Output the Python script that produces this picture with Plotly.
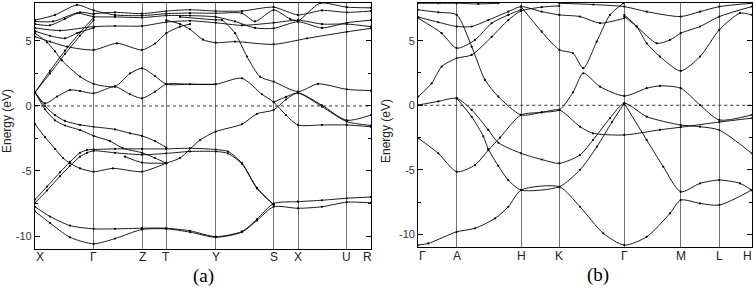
import plotly.graph_objects as go

# ---------------- Panel (a) ----------------
kpts_a = [0, 0.587, 1.07, 1.313, 1.807, 2.387, 2.63, 3.117, 3.36]
klab_a = ["X", "Γ", "Z", "T", "Y", "S", "X", "U", "R"]

a01 = [[0,-8.1],[0.15,-9.0],[0.35,-10.1],[0.587,-10.6],[0.8,-10.2],[1.07,-9.5],[1.313,-9.45],[1.55,-9.7],[1.807,-10.1],[2.07,-9.7],[2.22,-8.8],[2.387,-7.75],[2.63,-7.87],[2.87,-7.75],[3.117,-7.4],[3.36,-7.45]]
a02 = [[0,-7.75],[0.15,-8.5],[0.35,-9.2],[0.587,-9.45],[0.8,-9.45],[1.07,-9.4],[1.313,-9.4],[1.55,-9.6],[1.807,-10.05],[2.07,-9.65],[2.22,-8.7],[2.387,-7.5],[2.63,-7.36],[2.87,-7.25],[3.117,-7.1],[3.36,-7.0]]
a03 = [[0,-7.2],[0.12,-6.2],[0.25,-5.1],[0.35,-4.3],[0.45,-3.6],[0.52,-3.38],[0.587,-3.35],[0.8,-3.3],[1.07,-3.3],[1.313,-3.3],[1.55,-3.25],[1.807,-3.35],[1.93,-3.5],[2.07,-4.4],[2.22,-6.3],[2.387,-7.6]]
a04 = [[0,-7.45],[0.12,-6.5],[0.25,-5.4],[0.35,-4.6],[0.45,-3.9],[0.52,-3.6],[0.587,-3.45],[0.8,-3.6],[1.07,-3.75],[1.313,-3.65],[1.55,-3.5],[1.807,-3.5],[1.93,-3.65],[2.07,-4.45],[2.22,-6.35],[2.387,-7.6]]
a05 = [[0,-1.4],[0.1,-2.4],[0.2,-3.3],[0.28,-4.0],[0.35,-4.4],[0.45,-4.8],[0.587,-5.05],[0.78,-4.8],[1.07,-5.05],[1.313,-4.4],[1.45,-4.0],[1.65,-2.62],[1.807,-1.97],[2.07,-1.4],[2.22,-0.6],[2.387,-0.3],[2.51,0.5],[2.63,1.0],[2.87,0.05],[3.117,-1.1],[3.36,-0.7]]
a06 = [[0,5.6],[0.12,4.9],[0.2,4.2],[0.27,3.5],[0.45,2.26],[0.587,1.7],[0.8,1.5],[0.95,2.5],[1.07,2.9],[1.2,2.3],[1.313,1.68],[1.55,1.67],[1.807,1.67],[2.07,2.13],[2.27,0.9],[2.387,0.3],[2.51,-0.7],[2.63,-1.46],[2.87,-1.46],[3.117,-1.46],[3.36,-1.6]]
a07 = [[0,1.05],[0.1,0.2],[0.22,0.72],[0.35,1.23],[0.45,1.15],[0.587,0.97],[0.8,1.49],[0.95,0.9],[1.07,0.59],[1.2,1.1],[1.313,1.68],[1.55,1.67],[1.807,1.67]]
a08 = [[0,1.05],[0.15,2.5],[0.3,4.0],[0.45,5.4],[0.587,6.6]]
a09 = [[0,1.05],[0.15,2.7],[0.3,4.25],[0.45,5.65],[0.587,6.8]]
a10 = [[0,1.05],[0.1,0.0],[0.2,-0.7],[0.3,-1.15],[0.45,-1.45],[0.587,-1.6],[0.8,-1.8],[0.95,-2.1],[1.07,-2.3],[1.2,-2.7],[1.313,-3.2]]
a11 = [[0,1.05],[0.1,-0.25],[0.2,-1.1],[0.3,-1.5],[0.45,-1.85],[0.587,-2.3],[0.75,-2.7],[0.88,-3.25],[1.07,-3.6],[1.2,-4.0],[1.313,-4.4]]
a12 = [[0.9,-3.9],[1.07,-4.35],[1.313,-4.4]]
a13 = [[0,5.33],[0.15,4.95],[0.32,4.56],[0.587,4.31],[0.82,4.82],[1.07,4.31],[1.2,4.8],[1.313,5.6],[1.45,6.1],[1.55,6.3]]
a14 = [[1.313,6.6],[1.45,6.3],[1.55,5.9],[1.68,5.1],[1.807,4.87],[2.0,4.95],[2.387,4.74],[2.72,5.2],[3.117,5.7],[3.36,5.97]]
a15 = [[1.45,6.85],[1.807,6.62],[1.87,6.6],[2.0,5.6],[2.12,3.8],[2.25,2.25],[2.387,1.87],[2.63,1.1],[2.83,1.7],[3.117,1.28],[3.36,1.18]]
a16 = [[2.387,0.3],[2.51,0.7],[2.63,1.0],[2.87,-0.05],[3.117,-1.2],[3.36,-1.5]]
a17 = [[0,6.6],[0.2,7.0],[0.42,7.77],[0.587,7.35],[0.8,7.0],[1.07,6.95],[1.313,7.1],[1.55,7.15],[1.807,7.13],[2.07,7.13],[2.2,6.5],[2.387,7.38],[2.55,6.7],[2.63,6.55],[2.85,7.9],[3.117,7.6],[3.36,7.55]]
a18 = [[0,6.5],[0.18,6.5],[0.42,7.13],[0.587,6.87],[0.8,6.85],[1.07,6.8],[1.313,6.95],[1.55,6.95],[1.807,6.85],[2.0,6.5],[2.2,6.0],[2.387,5.97],[2.63,6.48],[2.87,6.0],[3.117,6.4],[3.36,6.6]]
a19 = [[0,6.0],[0.25,5.8],[0.587,6.1],[0.8,6.15],[1.07,6.15],[1.313,6.45],[1.55,6.55],[1.807,6.4],[2.07,6.2],[2.387,6.4],[2.63,6.6],[2.87,6.3],[3.117,6.3],[3.36,6.1]]
a20 = [[0,5.75],[0.15,5.4],[0.3,5.2],[0.42,5.6],[0.587,6.0]]
a21 = [[0.587,7.1],[0.8,7.2],[1.07,7.1],[1.313,7.3],[1.55,7.4],[1.807,7.3],[2.07,7.3],[2.387,7.6],[2.63,7.0],[2.87,7.35],[3.117,7.2],[3.36,7.3]]
a22 = [[0,6.3],[0.15,6.2],[0.3,6.7],[0.45,7.2],[0.587,7.05]]

# ---------------- Panel (b) ----------------
kpts_b = [0, 0.384, 1.027, 1.41, 2.06, 2.624, 3.01, 3.334]
klab_b = ["Γ", "A", "H", "K", "Γ", "M", "L", "H"]

b01 = [[0,-10.83],[0.1,-10.7],[0.384,-9.8],[0.567,-9.53],[0.767,-8.76],[0.9,-7.86],[1.027,-6.57],[1.41,-6.31],[1.617,-7.86],[1.85,-9.92],[2.06,-10.83],[2.284,-10.19],[2.517,-8.37],[2.624,-7.34],[2.817,-7.6],[3.01,-7.73],[3.334,-6.57]]
b02 = [[2.06,0.15],[2.284,-2.69],[2.45,-4.76],[2.624,-6.7],[2.817,-6.05],[3.01,-5.79],[3.217,-6.05],[3.334,-6.57]]
b03 = [[0,-2.55],[0.2,-3.72],[0.384,-5.15],[0.567,-4.63],[0.70,-3.47],[0.817,-2.5],[1.027,-0.75],[1.234,-0.55],[1.41,-0.36],[1.617,-1.66],[1.747,-2.17],[2.06,-2.3],[2.417,-1.9],[2.624,-1.7],[3.01,-1.3],[3.334,-1.0]]
b04 = [[0,0.02],[0.2,0.3],[0.384,0.54],[0.534,-0.36],[0.70,-1.91],[0.80,-2.9],[1.027,-3.72],[1.234,-4.2],[1.41,-4.5],[1.617,-3.85],[1.747,-2.69],[1.917,-1.0],[2.06,0.15],[2.284,-0.88],[2.624,-1.53],[2.817,-1.66],[3.01,-1.92],[3.334,-3.72]]
b05 = [[0.384,0.54],[0.534,-0.9],[0.65,-2.4],[0.70,-3.4],[0.80,-4.7],[0.9,-5.8],[1.027,-6.57],[1.41,-6.31],[1.617,-5.0],[1.787,-3.2],[1.937,-1.3],[2.06,0.15]]
b06 = [[0,0.67],[0.134,1.7],[0.234,3.0],[0.384,3.64],[0.534,3.9],[0.734,5.3],[0.9,6.6],[1.027,7.3],[1.234,7.6],[1.41,7.7]]
b07 = [[0,7.39],[0.2,7.2],[0.384,7.0],[0.534,4.54],[0.667,1.96],[0.80,0.67],[1.027,-0.75],[1.234,-0.55],[1.41,-0.36],[1.547,1.0],[1.65,2.48],[1.817,1.44],[2.06,0.72],[2.284,1.32],[2.417,1.5],[2.624,1.32],[2.817,0.02],[3.01,-1.14],[3.334,-0.75]]
b08 = [[1.027,7.64],[1.234,5.7],[1.41,4.29],[1.547,4.03],[1.65,2.87],[1.784,4.93],[1.917,7.0],[2.05,7.9]]
b09 = [[2.06,7.0],[2.184,6.1],[2.284,4.8],[2.417,3.77],[2.624,2.66],[2.817,3.77],[3.01,5.84],[3.217,7.13],[3.334,7.0]]
b10 = [[2.06,6.87],[2.184,6.1],[2.384,4.8],[2.517,5.06],[2.624,5.58],[2.817,6.1],[3.01,6.87],[3.334,7.64]]
b11 = [[1.41,7.9],[1.75,7.8],[2.06,7.64],[2.284,7.25],[2.624,6.87],[2.817,7.25],[3.01,7.64],[3.334,7.9]]
b12 = [[0,7.9],[0.2,7.9],[0.384,7.9],[0.6,7.85],[0.8,7.9]]
b13 = [[0,6.83],[0.2,6.43],[0.384,6.1],[0.534,6.1],[0.70,6.6],[0.9,7.25],[1.027,7.64],[1.234,7.25],[1.41,7.0],[1.617,6.87],[1.817,6.36],[2.06,6.74]]
b14 = [[0,6.74],[0.234,5.58],[0.384,4.42],[0.567,5.06],[0.734,6.36],[0.9,7.0],[1.027,7.4]]

bands_a_names = [a01,a02,a03,a04,a05,a06,a07,a08,a09,a10,a11,a12,a13,a14,a15,a16,a17,a18,a19,a20,a21,a22]
bands_b_names = [b01,b02,b03,b04,b05,b06,b07,b08,b09,b10,b11,b12,b13,b14]

yrange = [-11.0, 7.92]
ytickvals = [-10, -5, 0, 5]
yticktext = ["-10", "-5", "0", "5"]

fig = go.Figure()

def add_band(pts, xa, ya):
    fig.add_trace(go.Scatter(
        x=[p[0] for p in pts], y=[p[1] for p in pts],
        mode="lines+markers", xaxis=xa, yaxis=ya,
        line=dict(color="black", width=0.9, shape="spline", smoothing=0.7),
        marker=dict(size=2.2, color="black"),
        hoverinfo="skip", showlegend=False))

for b in bands_a_names:
    add_band(b, "x", "y")
for b in bands_b_names:
    add_band(b, "x2", "y2")

# Fermi level dotted lines
for xa, ya, kp in [("x", "y", kpts_a), ("x2", "y2", kpts_b)]:
    fig.add_trace(go.Scatter(x=[kp[0], kp[-1]], y=[0, 0], mode="lines",
                             xaxis=xa, yaxis=ya,
                             line=dict(color="#333", width=1, dash="dot"),
                             hoverinfo="skip", showlegend=False))

W, H = 756, 291
def xd(l, r):
    return [l / W, r / W]
def yd(top, bot):
    return [1 - bot / H, 1 - top / H]

xaxis_common = dict(showline=True, linecolor="black", linewidth=1.3, mirror=True,
                    ticks="", showgrid=True, gridcolor="#707070", gridwidth=1,
                    zeroline=False, tickmode="array", showticklabels=False)
yaxis_common = dict(showline=True, linecolor="black", linewidth=1.3, mirror="ticks",
                    ticks="inside", ticklen=5, tickcolor="black",
                    showgrid=False, zeroline=False, range=yrange,
                    tickmode="array", tickvals=ytickvals, ticktext=yticktext,
                    minor=dict(ticks="inside", ticklen=3, tickvals=[-7.5, -2.5, 2.5], tickcolor="black"),
                    tickfont=dict(family="Liberation Sans, Arial", size=11, color="#333"))

annotations = [
    dict(text="Energy (eV)", x=7 / W, y=1 - 121 / H, xref="paper", yref="paper",
         textangle=-90, showarrow=False, xanchor="center", yanchor="middle",
         font=dict(family="Liberation Sans, Arial", size=12, color="#222")),
    dict(text="Energy (eV)", x=386 / W, y=1 - 131 / H, xref="paper", yref="paper",
         textangle=-90, showarrow=False, xanchor="center", yanchor="middle",
         font=dict(family="Liberation Sans, Arial", size=12, color="#222")),
    dict(text="(a)", x=203 / W, y=1 - 276 / H, xref="paper", yref="paper",
         showarrow=False, xanchor="center", yanchor="middle",
         font=dict(family="Liberation Serif, Times New Roman", size=19, color="black")),
    dict(text="(b)", x=598 / W, y=1 - 275 / H, xref="paper", yref="paper",
         showarrow=False, xanchor="center", yanchor="middle",
         font=dict(family="Liberation Serif, Times New Roman", size=19, color="black")),
]
n_a = len(kpts_a)
for i, (k, lab) in enumerate(zip(kpts_a, klab_a)):
    if i == 0:
        anc, shift = "left", -1
    elif i == n_a - 1:
        anc, shift = "right", 3
    else:
        anc, shift = "center", 0
    annotations.append(dict(text=lab, x=k, xref="x", y=1 - 257 / H, yref="paper",
                            showarrow=False, xanchor=anc, yanchor="middle", xshift=shift,
                            font=dict(family="Liberation Sans, Arial", size=12, color="#222")))
n_b = len(kpts_b)
for i, (k, lab) in enumerate(zip(kpts_b, klab_b)):
    if i == 0:
        anc, shift = "left", -1
    elif i == n_b - 1:
        anc, shift = "right", 2
    else:
        anc, shift = "center", 0
    annotations.append(dict(text=lab, x=k, xref="x2", y=1 - 256 / H, yref="paper",
                            showarrow=False, xanchor=anc, yanchor="middle", xshift=shift,
                            font=dict(family="Liberation Sans, Arial", size=12, color="#222")))

fig.update_layout(
    width=W, height=H, margin=dict(l=0, r=0, t=0, b=0),
    paper_bgcolor="white", plot_bgcolor="white",
    xaxis=dict(xaxis_common, domain=xd(35, 371), range=[kpts_a[0], kpts_a[-1]],
               tickvals=kpts_a, anchor="y"),
    yaxis=dict(yaxis_common, domain=yd(3, 249), anchor="x"),
    xaxis2=dict(xaxis_common, domain=xd(418.3, 751.7), range=[kpts_b[0], kpts_b[-1]],
                tickvals=kpts_b, anchor="y2"),
    yaxis2=dict(yaxis_common, domain=yd(3, 247.3), anchor="x2"),
    annotations=annotations,
)

fig.write_html("out.html", config={"displayModeBar": False},
               post_script="document.body.style.margin='0';document.body.style.padding='0';document.body.style.overflow='hidden';")
